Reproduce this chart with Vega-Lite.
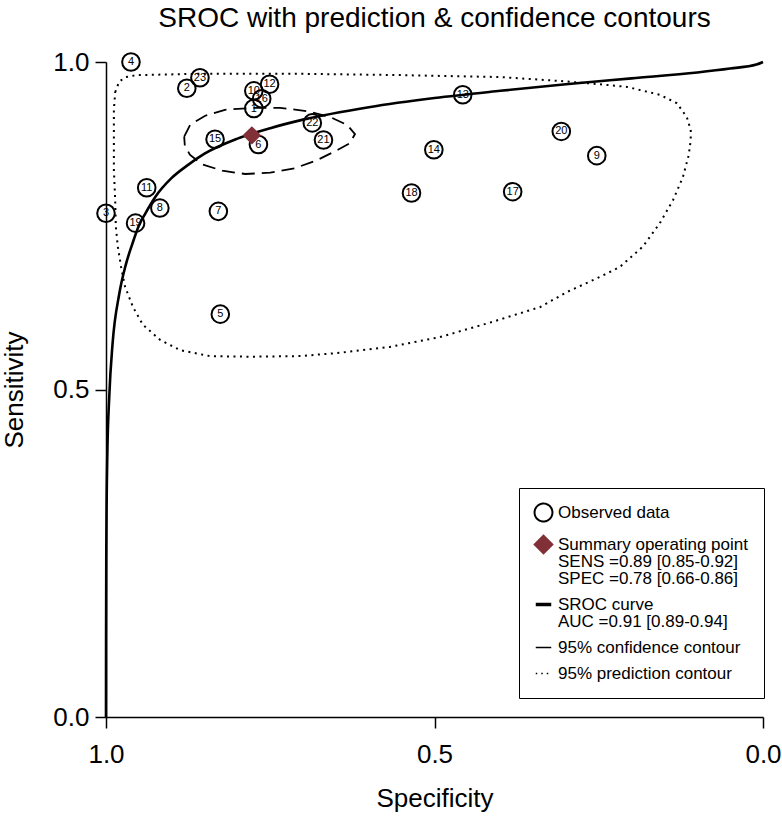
{
  "$schema": "https://vega.github.io/schema/vega-lite/v6.json",
  "width": 657,
  "height": 655,
  "autosize": "none",
  "padding": {"left": 106, "top": 62, "right": 19, "bottom": 99},
  "background": "white",
  "title": {"text": "SROC with prediction & confidence contours", "fontSize": 28, "font": "Liberation Sans", "fontWeight": "normal", "color": "black", "anchor": "middle", "frame": "group", "baseline": "alphabetic", "offset": -6},
  "config": {
    "view": {"stroke": null},
    "axis": {"domainColor": "black", "domainWidth": 1.5, "tickColor": "black", "tickWidth": 1.5, "tickSize": 11, "labelFont": "Liberation Sans", "labelFontSize": 26, "labelColor": "black", "titleFont": "Liberation Sans", "titleFontSize": 26, "titleFontWeight": "normal", "titleColor": "black", "grid": false}
  },
  "datasets": {
    "studies": [
      {"study": "1", "spec": 0.775, "sens": 0.929},
      {"study": "2", "spec": 0.877, "sens": 0.960},
      {"study": "3", "spec": 1.000, "sens": 0.769},
      {"study": "4", "spec": 0.962, "sens": 1.000},
      {"study": "5", "spec": 0.826, "sens": 0.615},
      {"study": "6", "spec": 0.768, "sens": 0.874},
      {"study": "7", "spec": 0.829, "sens": 0.772},
      {"study": "8", "spec": 0.918, "sens": 0.777},
      {"study": "9", "spec": 0.253, "sens": 0.857},
      {"study": "10", "spec": 0.775, "sens": 0.956},
      {"study": "11", "spec": 0.938, "sens": 0.808},
      {"study": "12", "spec": 0.751, "sens": 0.966},
      {"study": "13", "spec": 0.457, "sens": 0.950},
      {"study": "14", "spec": 0.501, "sens": 0.866},
      {"study": "15", "spec": 0.834, "sens": 0.882},
      {"study": "16", "spec": 0.763, "sens": 0.944},
      {"study": "17", "spec": 0.381, "sens": 0.802},
      {"study": "18", "spec": 0.535, "sens": 0.800},
      {"study": "19", "spec": 0.955, "sens": 0.754},
      {"study": "20", "spec": 0.307, "sens": 0.894},
      {"study": "21", "spec": 0.669, "sens": 0.881},
      {"study": "22", "spec": 0.686, "sens": 0.907},
      {"study": "23", "spec": 0.857, "sens": 0.976}
    ],
    "summary": [{"spec": 0.778, "sens": 0.888}],
    "curve": [
      {"spec": 1.0, "sens": 0.0},
      {"spec": 0.9999, "sens": 0.12},
      {"spec": 0.9995, "sens": 0.26},
      {"spec": 0.999, "sens": 0.33},
      {"spec": 0.998, "sens": 0.40},
      {"spec": 0.995, "sens": 0.49},
      {"spec": 0.99, "sens": 0.57},
      {"spec": 0.98, "sens": 0.645},
      {"spec": 0.97, "sens": 0.69},
      {"spec": 0.96, "sens": 0.722},
      {"spec": 0.95, "sens": 0.75},
      {"spec": 0.94, "sens": 0.769},
      {"spec": 0.925, "sens": 0.794},
      {"spec": 0.9, "sens": 0.823},
      {"spec": 0.875, "sens": 0.843},
      {"spec": 0.85, "sens": 0.86},
      {"spec": 0.8, "sens": 0.883},
      {"spec": 0.75, "sens": 0.899},
      {"spec": 0.7, "sens": 0.912},
      {"spec": 0.6, "sens": 0.931},
      {"spec": 0.5, "sens": 0.945},
      {"spec": 0.4, "sens": 0.956},
      {"spec": 0.3, "sens": 0.966},
      {"spec": 0.2, "sens": 0.975},
      {"spec": 0.1, "sens": 0.984},
      {"spec": 0.05, "sens": 0.99},
      {"spec": 0.01, "sens": 0.996},
      {"spec": 0.0, "sens": 1.0}
    ],
    "confidence": [
      {"spec": 0.881, "sens": 0.886},
      {"spec": 0.872, "sens": 0.904},
      {"spec": 0.849, "sens": 0.918},
      {"spec": 0.819, "sens": 0.927},
      {"spec": 0.776, "sens": 0.930},
      {"spec": 0.735, "sens": 0.930},
      {"spec": 0.694, "sens": 0.925},
      {"spec": 0.659, "sens": 0.916},
      {"spec": 0.633, "sens": 0.904},
      {"spec": 0.621, "sens": 0.890},
      {"spec": 0.629, "sens": 0.876},
      {"spec": 0.647, "sens": 0.866},
      {"spec": 0.679, "sens": 0.850},
      {"spec": 0.712, "sens": 0.838},
      {"spec": 0.750, "sens": 0.831},
      {"spec": 0.788, "sens": 0.829},
      {"spec": 0.823, "sens": 0.834},
      {"spec": 0.854, "sens": 0.844},
      {"spec": 0.872, "sens": 0.858},
      {"spec": 0.880, "sens": 0.872},
      {"spec": 0.881, "sens": 0.886}
    ],
    "prediction": [
      {"spec": 0.986, "sens": 0.954},
      {"spec": 0.980, "sens": 0.970},
      {"spec": 0.970, "sens": 0.977},
      {"spec": 0.953, "sens": 0.980},
      {"spec": 0.857, "sens": 0.982},
      {"spec": 0.705, "sens": 0.982},
      {"spec": 0.553, "sens": 0.980},
      {"spec": 0.400, "sens": 0.977},
      {"spec": 0.309, "sens": 0.971},
      {"spec": 0.248, "sens": 0.966},
      {"spec": 0.207, "sens": 0.962},
      {"spec": 0.157, "sens": 0.950},
      {"spec": 0.131, "sens": 0.937},
      {"spec": 0.116, "sens": 0.916},
      {"spec": 0.110, "sens": 0.896},
      {"spec": 0.110, "sens": 0.881},
      {"spec": 0.113, "sens": 0.858},
      {"spec": 0.122, "sens": 0.824},
      {"spec": 0.137, "sens": 0.789},
      {"spec": 0.157, "sens": 0.754},
      {"spec": 0.183, "sens": 0.718},
      {"spec": 0.218, "sens": 0.687},
      {"spec": 0.248, "sens": 0.672},
      {"spec": 0.298, "sens": 0.649},
      {"spec": 0.339, "sens": 0.626},
      {"spec": 0.416, "sens": 0.602},
      {"spec": 0.492, "sens": 0.580},
      {"spec": 0.568, "sens": 0.565},
      {"spec": 0.644, "sens": 0.556},
      {"spec": 0.705, "sens": 0.551},
      {"spec": 0.781, "sens": 0.550},
      {"spec": 0.842, "sens": 0.551},
      {"spec": 0.887, "sens": 0.560},
      {"spec": 0.918, "sens": 0.576},
      {"spec": 0.944, "sens": 0.599},
      {"spec": 0.959, "sens": 0.626},
      {"spec": 0.971, "sens": 0.657},
      {"spec": 0.977, "sens": 0.687},
      {"spec": 0.982, "sens": 0.718},
      {"spec": 0.985, "sens": 0.748},
      {"spec": 0.986, "sens": 0.789},
      {"spec": 0.988, "sens": 0.835},
      {"spec": 0.988, "sens": 0.881},
      {"spec": 0.988, "sens": 0.927},
      {"spec": 0.986, "sens": 0.954}
    ]
  },
  "encoding": {
    "x": {"field": "spec", "type": "quantitative", "scale": {"domain": [0, 1], "reverse": true, "nice": false, "zero": false},
      "axis": {"values": [1, 0.5, 0], "format": ".1f", "labelPadding": 13, "title": "Specificity", "titlePadding": 18, "labelFlush": false}},
    "y": {"field": "sens", "type": "quantitative", "scale": {"domain": [0, 1], "nice": false, "zero": false},
      "axis": {"values": [0, 0.5, 1], "format": ".1f", "labelPadding": 6, "title": "Sensitivity", "titlePadding": 25, "labelFlush": false}}
  },
  "layer": [
    {
      "data": {"name": "prediction"},
      "mark": {"type": "line", "strokeDash": [2, 4.5], "strokeWidth": 2, "clip": false},
      "encoding": {
        "order": {"value": null},
        "stroke": {"datum": "95% prediction contour", "type": "nominal",
          "scale": {"domain": ["Observed data", "Summary operating point", "SROC curve", "95% confidence contour", "95% prediction contour"], "range": ["black", "#803036", "black", "black", "black"]},
          "legend": {
            "title": null, "orient": "none", "legendX": 413, "legendY": 426,
            "strokeColor": "black", "padding": 16, "rowPadding": 8,
            "labelFont": "Liberation Sans", "labelFontSize": 17, "labelColor": "black", "labelOffset": 6, "labelLimit": 0,
            "symbolSize": 300,
            "labelExpr": "datum.label === 'Summary operating point' ? ['Summary operating point', 'SENS =0.89 [0.85-0.92]', 'SPEC =0.78 [0.66-0.86]'] : datum.label === 'SROC curve' ? ['SROC curve', 'AUC =0.91 [0.89-0.94]'] : datum.label",
            "encode": {
              "symbols": {"update": {
                "shape": {"signal": "datum.value === 'Observed data' ? 'circle' : datum.value === 'Summary operating point' ? 'diamond' : 'M-1,0H1'"},
                "size": {"signal": "datum.value === 'Summary operating point' ? 420 : datum.value === 'Observed data' ? 320 : 240"},
                "fill": {"signal": "datum.value === 'Summary operating point' ? '#803036' : 'transparent'"},
                "stroke": {"signal": "datum.value === 'Summary operating point' ? '#803036' : 'black'"},
                "strokeWidth": {"signal": "datum.value === 'SROC curve' ? 3.5 : datum.value === 'Summary operating point' ? 0 : datum.value === 'Observed data' ? 2 : 1.5"},
                "strokeDash": {"signal": "datum.value === '95% prediction contour' ? [1.5, 4] : [1, 0]"},
                "opacity": {"value": 1}
              }},
              "labels": {"update": {"lineHeight": {"value": 17}}}
            }
          }
        }
      }
    },
    {
      "data": {"name": "confidence"},
      "mark": {"type": "line", "strokeDash": [13, 7], "strokeWidth": 1.8, "clip": false},
      "encoding": {
        "order": {"value": null},
        "stroke": {"datum": "95% confidence contour", "type": "nominal"}
      }
    },
    {
      "data": {"name": "curve"},
      "mark": {"type": "line", "strokeWidth": 2.6, "interpolate": "monotone", "clip": false},
      "encoding": {
        "order": {"value": null},
        "stroke": {"datum": "SROC curve", "type": "nominal"}
      }
    },
    {
      "data": {"name": "studies"},
      "mark": {"type": "point", "shape": "circle", "filled": false, "size": 310, "strokeWidth": 2, "opacity": 1, "clip": false},
      "encoding": {
        "stroke": {"datum": "Observed data", "type": "nominal"}
      }
    },
    {
      "data": {"name": "studies"},
      "mark": {"type": "text", "font": "Liberation Sans", "fontSize": 11, "fill": "black", "align": "center", "baseline": "middle"},
      "encoding": {"text": {"field": "study", "type": "nominal"}}
    },
    {
      "data": {"name": "summary"},
      "mark": {"type": "point", "shape": "diamond", "filled": true, "size": 340, "opacity": 1, "strokeWidth": 0},
      "encoding": {
        "stroke": {"datum": "Summary operating point", "type": "nominal"},
        "fill": {"value": "#803036"}
      }
    }
  ]
}
